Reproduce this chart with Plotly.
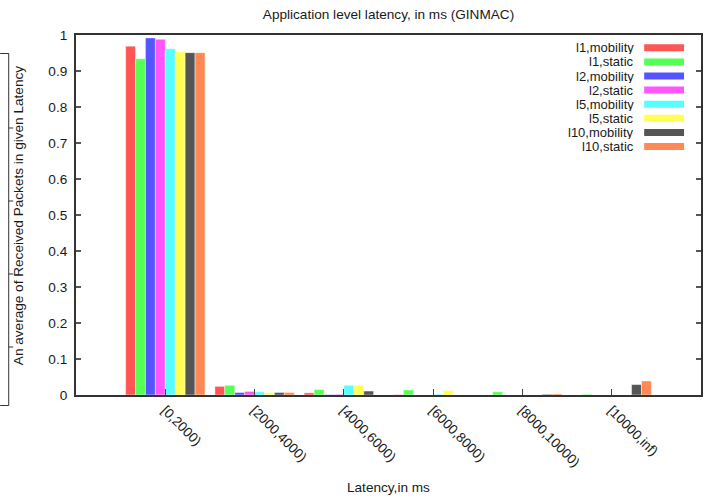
import plotly.graph_objects as go

# Latency buckets (ms) and the share of received packets falling in each
categories = ["[0,2000)", "[2000,4000)", "[4000,6000)", "[6000,8000)",
              "[8000,10000)", "[10000,inf)"]

l1_mobility = [0.969, 0.024, 0.006, 0.001, 0.000, 0.000]
l1_static = [0.934, 0.027, 0.015, 0.014, 0.009, 0.002]
l2_mobility = [0.992, 0.007, 0.001, 0.000, 0.000, 0.000]
l2_static = [0.988, 0.010, 0.002, 0.000, 0.000, 0.000]
l5_mobility = [0.962, 0.009, 0.027, 0.002, 0.000, 0.000]
l5_static = [0.953, 0.007, 0.027, 0.013, 0.000, 0.000]
l10_mobility = [0.951, 0.007, 0.011, 0.000, 0.002, 0.029]
l10_static = [0.951, 0.007, 0.000, 0.000, 0.003, 0.039]

series_names = ["l1,mobility", "l1,static", "l2,mobility", "l2,static",
                "l5,mobility", "l5,static", "l10,mobility", "l10,static"]
series_values = [l1_mobility, l1_static, l2_mobility, l2_static,
                 l5_mobility, l5_static, l10_mobility, l10_static]
series_colors = ["#ff5555", "#55ff55", "#5555ff", "#ff55ff",
                 "#55ffff", "#ffff55", "#555555", "#ff8855"]

y_ticks = [i / 10 for i in range(11)]
y_tick_text = ["0", "0.1", "0.2", "0.3", "0.4", "0.5", "0.6", "0.7", "0.8", "0.9", "1"]

W, H = 710, 499
L, R, T, B = 76, 7, 35, 104
PW, PH = W - L - R, H - T - B

FONT = "Liberation Sans, Arial, Helvetica, sans-serif"
FS = 13.6
KEY_FS = 13.0
TXT = "#1a1a1a"


def px(x):
    return (x - L) / PW


def py(y):
    return (H - B - y) / PH


xpos = list(range(len(categories)))

fig = go.Figure()
for name, vals, col in zip(series_names, series_values, series_colors):
    fig.add_trace(go.Bar(
        x=xpos, y=vals, name=name,
        marker=dict(color=col, line=dict(color="rgba(255,255,255,0.45)", width=1)),
        showlegend=False,
    ))

# Key box: right-aligned labels with colour swatches
shapes = []
annotations = []
row_y = 47.8
for name, col in zip(series_names, series_colors):
    annotations.append(dict(
        x=px(638), y=py(row_y), xref="paper", yref="paper",
        text=name, showarrow=False, xanchor="right", yanchor="middle",
        height=13, valign="middle",
        font=dict(family=FONT, size=KEY_FS, color=TXT),
    ))
    shapes.append(dict(
        type="rect", xref="paper", yref="paper",
        x0=px(646), x1=px(686), y0=py(row_y - 3.5), y1=py(row_y + 3.5),
        fillcolor=col, line=dict(width=0),
    ))
    row_y += 14.1

# Bracket-shaped auxiliary axis at the far left
bk = dict(color="#333333", width=1)
shapes.append(dict(type="line", xref="paper", yref="paper",
                   x0=px(0), x1=px(8.5), y0=py(53.5), y1=py(53.5), line=bk))
shapes.append(dict(type="line", xref="paper", yref="paper",
                   x0=px(8.5), x1=px(8.5), y0=py(53.5), y1=py(405.5), line=bk))
shapes.append(dict(type="line", xref="paper", yref="paper",
                   x0=px(0), x1=px(8.5), y0=py(405.5), y1=py(405.5), line=bk))
for ty in [128, 201, 274, 347]:
    shapes.append(dict(type="line", xref="paper", yref="paper",
                       x0=px(8.5), x1=px(13), y0=py(ty), y1=py(ty), line=bk))

annotations.append(dict(
    x=px(18), y=py(216), xref="paper", yref="paper",
    text="An average of Received Packets in given Latency", textangle=-90,
    showarrow=False, xanchor="center", yanchor="middle",
    font=dict(family=FONT, size=FS, color=TXT),
))
annotations.append(dict(
    x=0.5, y=py(487), xref="paper", yref="paper",
    text="Latency,in ms", showarrow=False, xanchor="center", yanchor="middle",
    font=dict(family=FONT, size=FS, color=TXT),
))

fig.update_layout(
    width=W, height=H,
    margin=dict(l=L, r=R, t=T, b=B, pad=0),
    paper_bgcolor="white", plot_bgcolor="white",
    barmode="group", bargap=1 / 9, bargroupgap=0,
    font=dict(family=FONT, size=FS, color=TXT),
    title=dict(text="Application level latency, in ms (GINMAC)",
               x=0.5, xref="paper", xanchor="center",
               y=1 - 14 / H, yref="container", yanchor="middle",
               font=dict(family=FONT, size=FS, color=TXT)),
    shapes=shapes,
    annotations=annotations,
    xaxis=dict(
        range=[-1, 6], tickvals=xpos, ticktext=categories, tickangle=45,
        ticks="inside", ticklen=6, tickcolor="#444444", tickwidth=1,
        showline=True, linecolor="#333333", linewidth=2, mirror=True,
        showgrid=False, zeroline=False,
        tickfont=dict(family=FONT, size=FS, color=TXT),
    ),
    yaxis=dict(
        range=[0, 1], tickvals=y_ticks, ticktext=y_tick_text,
        ticks="inside", ticklen=5, tickcolor="#555555", tickwidth=1.5,
        showline=True, linecolor="#333333", linewidth=2, mirror="ticks",
        showgrid=False, zeroline=False, ticklabelstandoff=4,
        tickfont=dict(family=FONT, size=FS, color=TXT),
    ),
)

fig.write_html("out.html")
